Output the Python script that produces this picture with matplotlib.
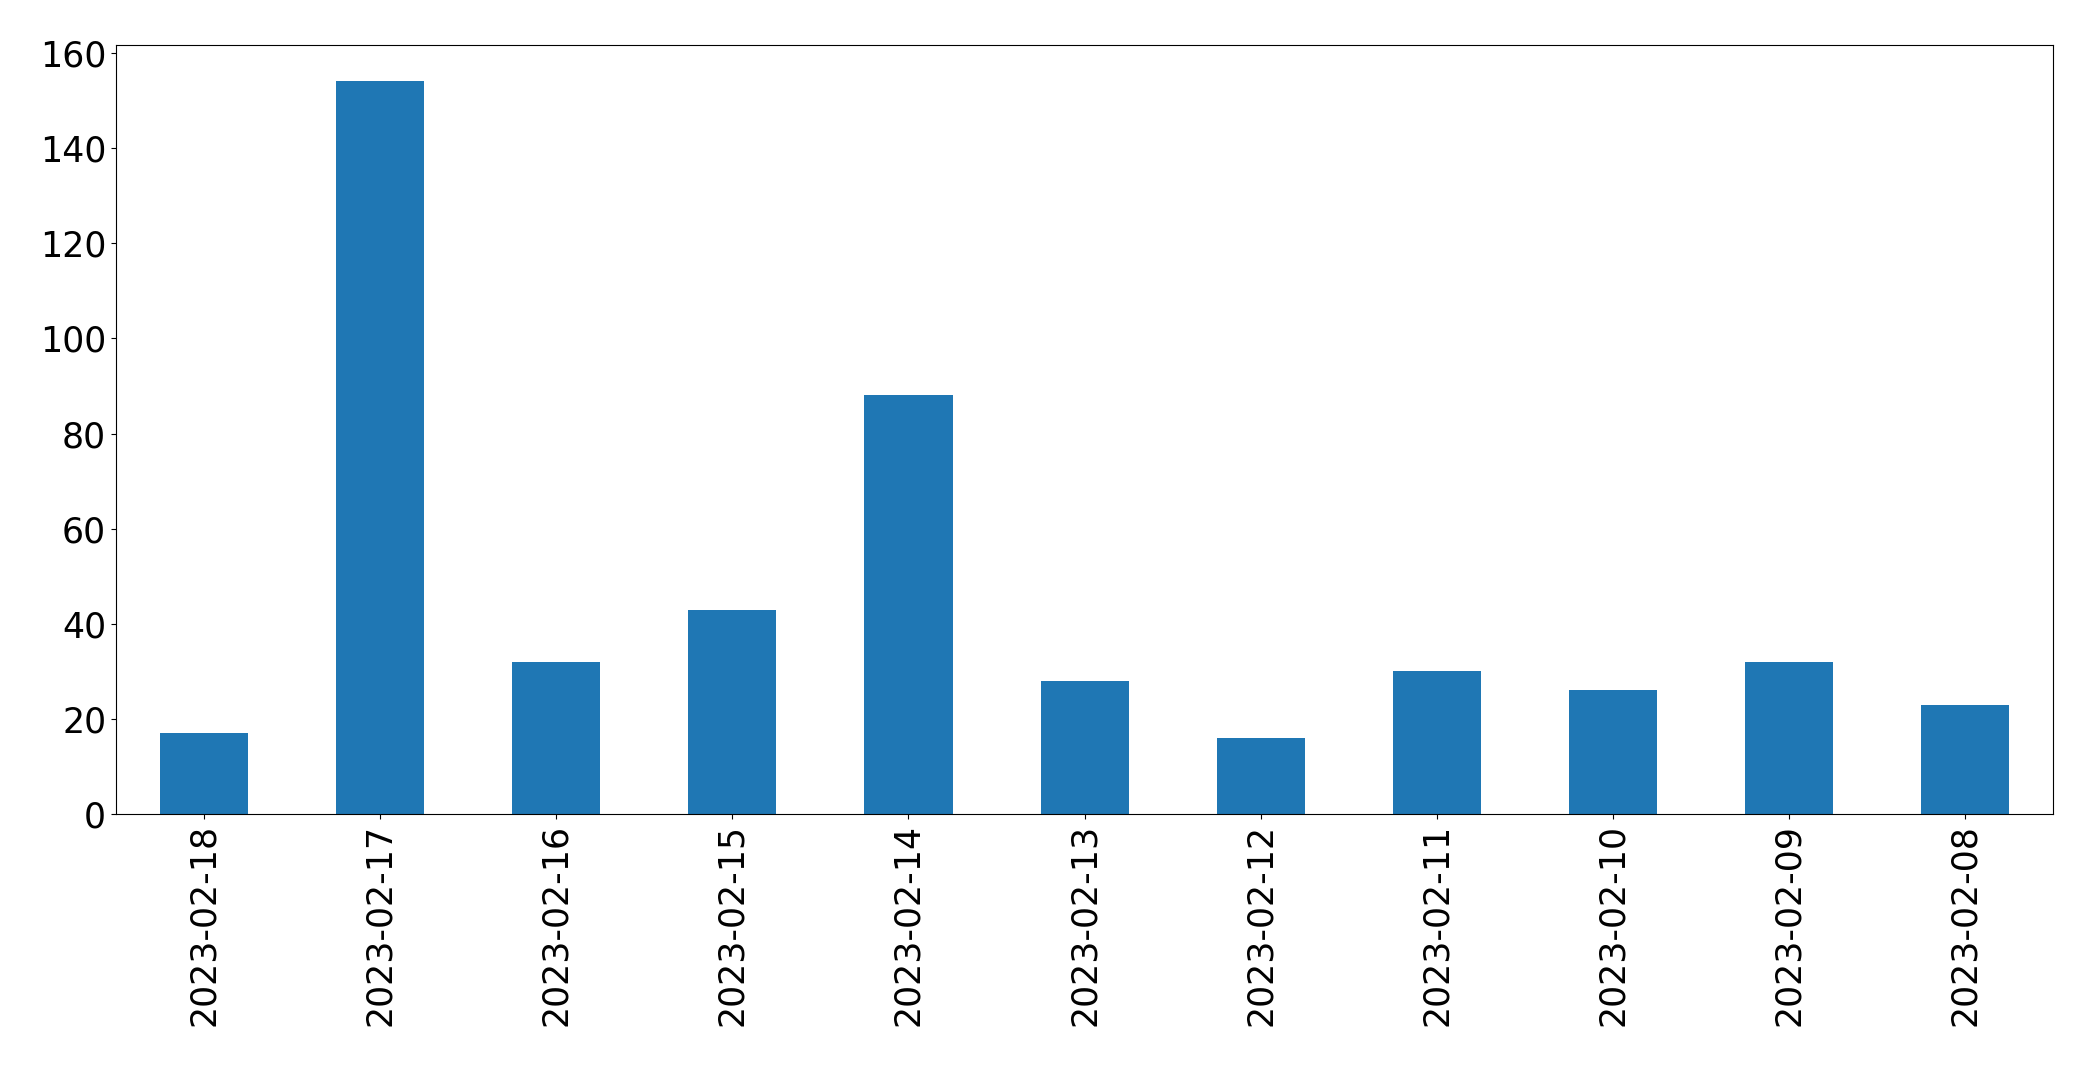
import matplotlib
matplotlib.use("Agg")
import matplotlib.pyplot as plt
import numpy as np

# Daily counts, most recent first
dates = ["2023-02-18", "2023-02-17", "2023-02-16", "2023-02-15", "2023-02-14",
         "2023-02-13", "2023-02-12", "2023-02-11", "2023-02-10", "2023-02-09",
         "2023-02-08"]
counts = [17, 154, 32, 43, 88, 28, 16, 30, 26, 32, 23]

fig = plt.figure(figsize=(20.93, 10.67), dpi=100)
ax = fig.add_axes([0.0554, 0.237, 0.9256, 0.721])

x = np.arange(len(dates))
ax.bar(x, counts, width=0.5, color="#1f77b4")

ax.set_xlim(-0.5, len(dates) - 0.5)
ax.set_ylim(0, 161.7)
ax.set_xticks(x)
ax.set_xticklabels(dates, rotation=90)
ax.tick_params(axis="both", labelsize=25)

fig.savefig("out.png", dpi=100)
